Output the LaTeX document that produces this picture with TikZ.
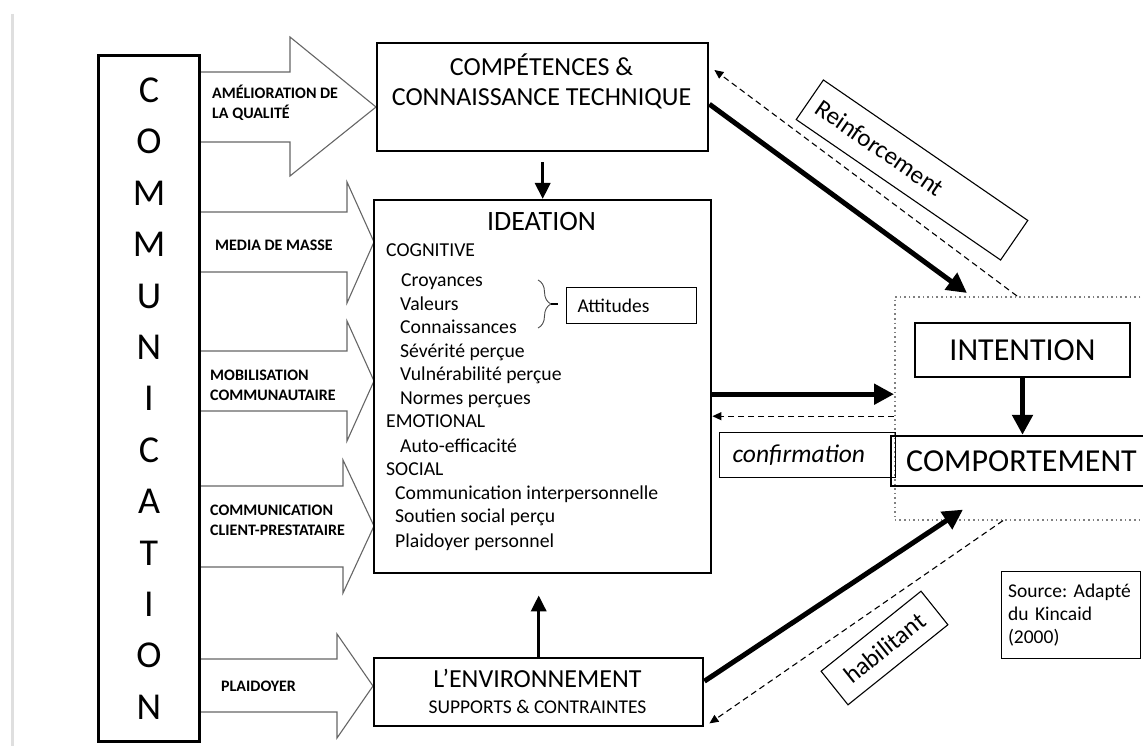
\documentclass[tikz,border=0pt]{standalone}
\usepackage{fontspec}
\setmainfont{Carlito}
\usetikzlibrary{calc,arrows.meta,decorations.pathreplacing}

\tikzset{
  box/.style={draw,line width=2.4pt,inner sep=0pt},
  thinbox/.style={draw,line width=1.1pt},
  bigarrow/.style={line width=5pt,-{Triangle[length=20pt,width=20pt]}},
  midarrow/.style={line width=3.5pt,-{Triangle[length=16pt,width=15pt]}},
  dasharrow/.style={line width=1.1pt,dash pattern=on 6pt off 4pt,-{Triangle[length=9pt,width=8pt]}},
  fatarrow/.style={draw=black!60,line width=1.1pt,fill=white},
  arrowlabel/.style={font=\fontsize{16}{20}\selectfont\bfseries,align=left,anchor=west,inner sep=0pt},
  item/.style={font=\fontsize{19.7}{23}\selectfont,anchor=base west,inner sep=0pt},
}

\begin{document}
\begin{tikzpicture}[x=1pt,y=-1pt]
\clip (0,0) rectangle (1143,746);
\fill[white] (0,0) rectangle (1143,746);
\draw[gray!25,line width=3pt] (12,14) -- (12,746);

% block arrows out of the communication column
\draw[fatarrow] (198,72) -- (290,72) -- (290,37) -- (376,107) -- (290,176) -- (290,142) -- (198,142);
\draw[fatarrow] (198,212) -- (347,212) -- (347,182) -- (374,242) -- (347,303) -- (347,272) -- (198,272);
\draw[fatarrow] (198,351) -- (347,351) -- (347,321) -- (374,381) -- (347,441) -- (347,411) -- (198,411);
\draw[fatarrow] (198,486) -- (343,486) -- (343,460) -- (374,526) -- (343,593) -- (343,567) -- (198,567);
\draw[fatarrow] (198,659) -- (337,659) -- (337,634) -- (373,686) -- (337,738) -- (337,712) -- (198,712);

\node[arrowlabel] (lblqual) at (212,103) {AMÉLIORATION DE\\LA QUALITÉ};
\node[arrowlabel] (lblmedia) at (215,245) {MEDIA DE MASSE};
\node[arrowlabel] (lblmob) at (210,385) {MOBILISATION\\COMMUNAUTAIRE};
\node[arrowlabel] (lblclient) at (210,520) {COMMUNICATION\\CLIENT-PRESTATAIRE};
\node[arrowlabel] (lblplaid) at (221,686) {PLAIDOYER};

\node[box,line width=3pt,minimum width=101pt,minimum height=686pt,anchor=north west,
  align=center,font=\fontsize{38}{51.4}\selectfont] (comm) at (97,54)
  {C\\O\\M\\M\\U\\N\\I\\C\\A\\T\\I\\O\\N};

% competences
\node[box,minimum width=331pt,minimum height=108pt,anchor=north west] (comp) at (376,42) {};
\node[font=\fontsize{26}{30}\selectfont,align=center] (comptxt) at (541.5,81)
  {COMPÉTENCES \&\\CONNAISSANCE TECHNIQUE};

% ideation
\node[box,minimum width=337pt,minimum height=373pt,anchor=north west] (ideation) at (373,199) {};
\node[font=\fontsize{28}{30}\selectfont] (ideatitle) at (541.5,222) {IDEATION};
\node[item] (cogn) at (386,256) {COGNITIVE};
\node[item] (croy) at (401,286) {Croyances};
\node[item] (vale) at (400,310) {Valeurs};
\node[item] (conn) at (400,333.5) {Connaissances};
\node[item] (seve) at (400,357) {Sévérité perçue};
\node[item] (vuln) at (400,380.5) {Vulnérabilité perçue};
\node[item] (norm) at (400,404) {Normes perçues};
\node[item] (emot) at (386,427.5) {EMOTIONAL};
\node[item] (auto) at (400,452) {Auto-efficacité};
\node[item] (soci) at (386,475.5) {SOCIAL};
\node[item] (inter) at (395,499) {Communication interpersonnelle};
\node[item] (sout) at (395,522.5) {Soutien social perçu};
\node[item] (plai) at (395,547) {Plaidoyer personnel};

\draw[black!70,line width=0.9pt,decorate,decoration={brace,amplitude=13pt}] (538,280) -- (538,328);
\coordinate (bracetip) at (551,304);
\draw[line width=2.2pt] (bracetip) -- ++(7,0);
\node[thinbox,minimum width=130pt,minimum height=36pt,text width=108pt,inner xsep=11pt,
  align=left,anchor=north west,font=\fontsize{19.5}{23}\selectfont] (attitudes) at (566,287) {Attitudes};

% environnement
\node[box,minimum width=329pt,minimum height=68pt,anchor=north west] (env) at (373,657) {};
\node[font=\fontsize{26}{30}\selectfont] (envtxt) at (537.5,678) {L’ENVIRONNEMENT};
\node[font=\fontsize{19.5}{22}\selectfont] (envsub) at (537.5,707) {SUPPORTS \& CONTRAINTES};

% intention / comportement
\node[draw=gray,line width=1.6pt,dash pattern=on 1.6pt off 3pt,minimum width=262pt,
  minimum height=223pt,anchor=north west] (zone) at (894,296) {};
\node[box,minimum width=215pt,minimum height=54pt,font=\fontsize{32}{34}\selectfont] (intention) at (1022.5,350) {INTENTION};
\node[box,minimum height=50pt,inner xsep=15pt,anchor=west,font=\fontsize{32}{34}\selectfont] (comport) at (890,461) {COMPORTEMENT};

\node[thinbox,minimum height=45pt,text width=150pt,inner xsep=13pt,align=left,anchor=north west,
  font=\fontsize{25.5}{27}\selectfont\itshape] (confirm) at (719,432) {confirmation};
\node[thinbox,minimum height=87pt,text width=126pt,inner xsep=6.5pt,align=left,anchor=north west,
  font=\fontsize{19.5}{23}\selectfont] (source) at (1001,571) {\frenchspacing Source: Adapté\\du Kincaid\\(2000)};

\node[thinbox,rotate=-34.5,minimum width=248pt,minimum height=48pt,text width=228pt,inner xsep=10pt,
  align=left,font=\fontsize{25}{27}\selectfont] (reinf) at (912,170) {Reinforcement};
\node[thinbox,rotate=38.7,minimum width=128pt,minimum height=43pt,
  font=\fontsize{25}{27}\selectfont] (habil) at (884.5,648) {habilitant};

% connectors
\draw[midarrow] ([yshift=-10pt]comp.south) -- (ideation.north);
\draw[midarrow] (env.north) -- ($(env.north |- ideation.south)+(0,21)$);
\draw[bigarrow] ($(comp.east)+(0,7)$) -- ($(zone.north west)+(73,-3)$);
\draw[dasharrow] ($(zone.north west)+(123,0)$) -- ($(comp.north east)+(5,28)$);
\coordinate (ideaout) at ($(ideation.east)+(0,7.5)$);
\draw[bigarrow] (ideaout) -- (ideaout -| zone.west);
\coordinate (ideain) at ($(ideation.east)+(0,29.5)$);
\draw[dasharrow] (ideain -| zone.west) -- (ideain);
\draw[bigarrow] (intention.south) -- (intention.south |- comport.north);
\draw[bigarrow] ($(env.east)+(0,-11)$) -- ($(zone.south west)+(69,-11)$);
\draw[dasharrow] ($(zone.south west)+(109,0)$) -- ($(env.south east)+(5,-4)$);
\end{tikzpicture}
\end{document}
